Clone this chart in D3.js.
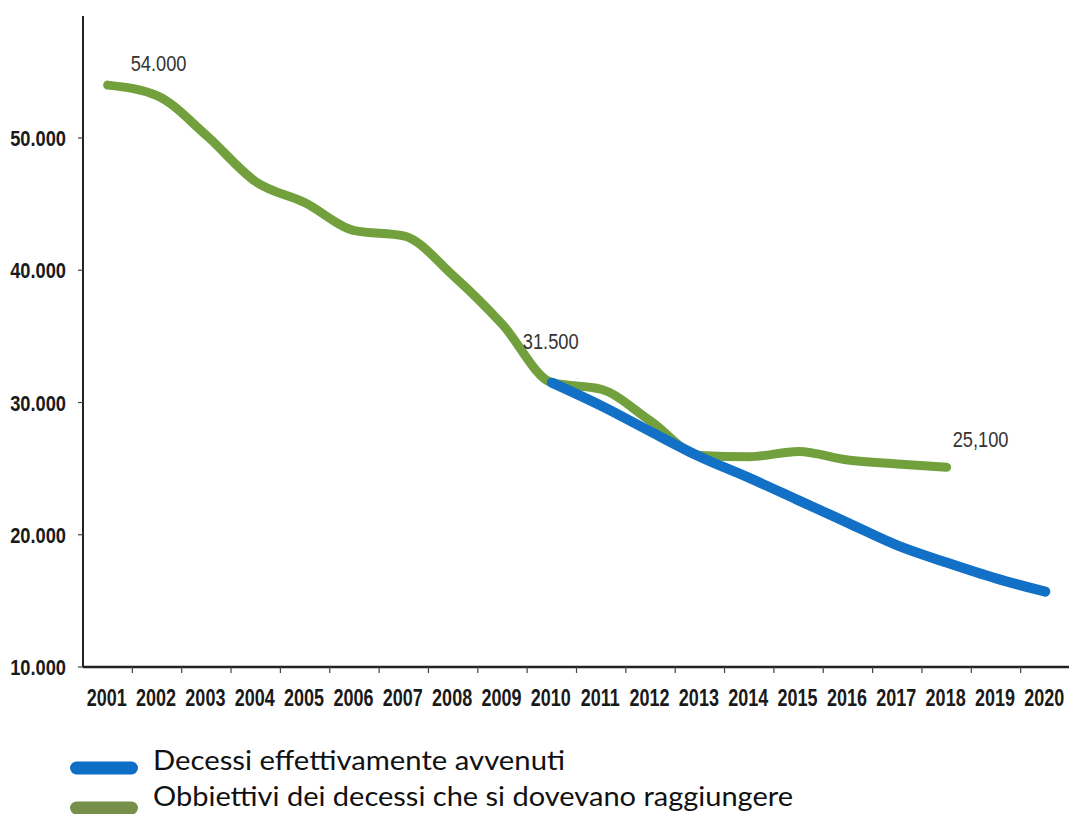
<!DOCTYPE html>
<html>
<head>
<meta charset="utf-8">
<script src="https://cdn.jsdelivr.net/npm/d3@7"></script>
<style>
  html, body { margin: 0; padding: 0; background: #fff; }
</style>
</head>
<body>
<div id="container"></div>
<script>
// dati
const years = ['2001','2002','2003','2004','2005','2006','2007','2008','2009','2010',
               '2011','2012','2013','2014','2015','2016','2017','2018','2019','2020'];
const obiettiviYears = years.slice(0, 18);           // 2001-2018
const obiettivi = [54000, 53200, 50200, 46700, 45100, 43000, 42600, 39600, 35900, 31500,
                   31000, 28600, 26000, 25900, 26300, 25650, 25350, 25100];
const effettiviYears = years.slice(9);               // 2010-2020
const effettivi = [31500, 29750, 27800, 25900, 24300, 22600, 20900, 19200, 17900, 16700, 15700];
const yTicks = [10000, 20000, 30000, 40000, 50000];
const notes = [
  { year: '2001', value: 54000, text: '54.000' },
  { year: '2010', value: 31500, text: '31.500' },
  { year: '2018', value: 25100, text: '25,100' }
];
const legendItems = [
  { label: 'Decessi effettivamente avvenuti', color: '#0f6fc6' },
  { label: 'Obbiettivi dei decessi che si dovevano raggiungere', color: '#76904a' }
];

// spostamenti delle etichette rispetto al punto
const noteOffset = { '2001': [23, -14], '2010': [-29, -34], '2018': [6, -20] };

const width = 1069, height = 814;
const itFmt = d => d3.format(',')(d).replace(/,/g, '.');
const FONT = 'Liberation Sans, Arial, sans-serif';

const svg = d3.select('#container').append('svg')
  .attr('width', width).attr('height', height);

// scale
const x = d3.scaleBand().domain(years).range([83, 1070]);
const y = d3.scaleLinear().domain([10000, 50000]).range([667, 138]);
const cx = d => x(d) + x.bandwidth() / 2;

// asse Y
svg.append('line')
  .attr('x1', 83).attr('x2', 83).attr('y1', 16).attr('y2', y(10000))
  .attr('stroke', '#222').attr('stroke-width', 2);
const yAx = svg.append('g');
yAx.selectAll('line').data(yTicks).enter().append('line')
  .attr('x1', 78).attr('x2', 83)
  .attr('y1', d => y(d)).attr('y2', d => y(d))
  .attr('stroke', '#444').attr('stroke-width', 1.2);
yAx.selectAll('text').data(yTicks).enter().append('text')
  .attr('transform', d => `translate(66,${y(d) + 8}) scale(0.83,1)`)
  .attr('text-anchor', 'end')
  .attr('font-family', FONT)
  .attr('font-weight', 'bold').attr('font-size', 22).attr('fill', '#1a1a1a')
  .text(itFmt);

// asse X
svg.append('line')
  .attr('x1', 83).attr('x2', width).attr('y1', 667).attr('y2', 667)
  .attr('stroke', '#222').attr('stroke-width', 2.5);
const xAx = svg.append('g');
xAx.selectAll('line').data(years).enter().append('line')
  .attr('x1', d => x(d) + x.bandwidth()).attr('x2', d => x(d) + x.bandwidth())
  .attr('y1', 667).attr('y2', 673)
  .attr('stroke', '#444').attr('stroke-width', 1.2);
xAx.selectAll('text').data(years).enter().append('text')
  .attr('transform', d => `translate(${cx(d) - 1},706) scale(0.75,1)`)
  .attr('text-anchor', 'middle')
  .attr('font-family', FONT)
  .attr('font-weight', 'bold').attr('font-size', 24).attr('fill', '#1a1a1a')
  .text(d => d);

// linee
const line = d3.line()
  .x(d => cx(d[0]))
  .y(d => y(d[1]))
  .curve(d3.curveMonotoneX);

svg.append('path')
  .datum(d3.zip(obiettiviYears, obiettivi))
  .attr('fill', 'none').attr('stroke', '#72a03c')
  .attr('stroke-width', 9).attr('stroke-linecap', 'round').attr('stroke-linejoin', 'round')
  .attr('d', line);

svg.append('path')
  .datum(d3.zip(effettiviYears, effettivi))
  .attr('fill', 'none').attr('stroke', '#1270c6')
  .attr('stroke-width', 10).attr('stroke-linecap', 'round').attr('stroke-linejoin', 'round')
  .attr('d', line);

// etichette valori
svg.selectAll('.note').data(notes).enter().append('text')
  .attr('class', 'note')
  .attr('transform', d => {
    const o = noteOffset[d.year];
    return `translate(${cx(d.year) + o[0]},${y(d.value) + o[1]}) scale(0.83,1)`;
  })
  .attr('font-family', FONT)
  .attr('font-size', 22).attr('fill', '#333')
  .text(d => d.text);

// legenda
const leg = svg.append('g');
legendItems.forEach((it, i) => {
  const yy = 768 + i * 40;
  leg.append('rect')
    .attr('x', 70).attr('y', yy - 6.5).attr('width', 68).attr('height', 13)
    .attr('rx', 6.5).attr('fill', it.color);
  leg.append('text')
    .attr('x', 153).attr('y', yy + 2 - i * 4)
    .attr('textLength', i === 0 ? 412 : 640).attr('lengthAdjust', 'spacingAndGlyphs')
    .attr('font-family', 'Lato, Open Sans, sans-serif')
    .attr('font-size', 27).attr('fill', '#111')
    .text(it.label);
});
</script>
</body>
</html>
